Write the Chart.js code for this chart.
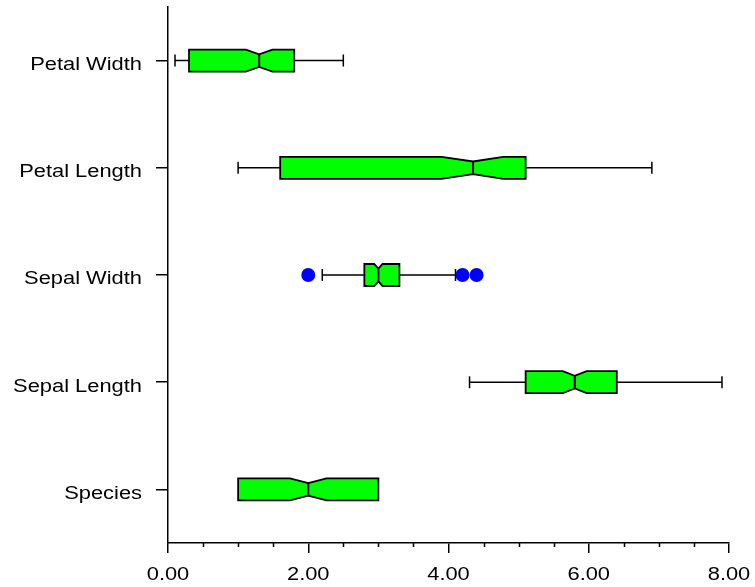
<!DOCTYPE html>
<html>
<head>
<meta charset="utf-8">
<script src="https://cdn.jsdelivr.net/npm/chart.js@4"></script>
<style>
  body { margin: 0; background: #fff; }
  canvas { display: block; }
</style>
</head>
<body>
<canvas id="boxChart" width="755" height="587"></canvas>
<script>
// Iris variables, top to bottom
const categories = ['Petal Width', 'Petal Length', 'Sepal Width', 'Sepal Length', 'Species'];
const mins    = [0.1, 1.0, 2.2, 4.3, 1.0];
const q1s     = [0.3, 1.6, 2.8, 5.1, 1.0];
const medians = [1.3, 4.35, 3.0, 5.8, 2.0];
const q3s     = [1.8, 5.1, 3.3, 6.4, 3.0];
const maxs    = [2.5, 6.9, 4.1, 7.9, 3.0];
const notchLo = [1.11, 3.90, 2.94, 5.63, 1.74];
const notchHi = [1.49, 4.78, 3.06, 5.97, 2.26];

const outlierValues = [2.0, 4.2, 4.4];
const outlierCats   = ['Sepal Width', 'Sepal Width', 'Sepal Width'];

const xTicks = [0, 2, 4, 6, 8];
const xTickLabels = ['0.00', '2.00', '4.00', '6.00', '8.00'];
const xMinorTicks = [0.5, 1, 1.5, 2.5, 3, 3.5, 4.5, 5, 5.5, 6.5, 7, 7.5];

const FONT = '17.5px "Liberation Sans", Arial, sans-serif';
const STRETCH = 1.25; // labels in the reference are drawn wide

function stretchedText(ctx, text, x, y, align) {
    ctx.save();
    ctx.translate(x, y);
    ctx.scale(STRETCH, 1);
    ctx.textAlign = align;
    ctx.textBaseline = 'alphabetic';
    ctx.fillText(text, 0, 0);
    ctx.restore();
}

const notchedBoxPlugin = {
    id: 'notchedBox',
    beforeDatasetsDraw(chart) {
        const ctx = chart.ctx;
        const x = chart.scales.x;
        const y = chart.scales.y;
        const h = 11;   // half box height
        const d = 4.7;  // notch depth
        const cap = 6;  // whisker cap half height

        ctx.save();
        ctx.strokeStyle = '#000';
        categories.forEach((c, i) => {
            const cy = y.getPixelForValue(i);
            const px = v => x.getPixelForValue(v);

            // whiskers
            ctx.lineWidth = 1.5;
            ctx.beginPath();
            if (mins[i] < q1s[i]) {
                ctx.moveTo(px(mins[i]), cy);
                ctx.lineTo(px(q1s[i]), cy);
                ctx.moveTo(px(mins[i]), cy - cap);
                ctx.lineTo(px(mins[i]), cy + cap);
            }
            if (maxs[i] > q3s[i]) {
                ctx.moveTo(px(q3s[i]), cy);
                ctx.lineTo(px(maxs[i]), cy);
                ctx.moveTo(px(maxs[i]), cy - cap);
                ctx.lineTo(px(maxs[i]), cy + cap);
            }
            ctx.stroke();

            // notched box
            ctx.lineWidth = 1.8;
            ctx.beginPath();
            ctx.moveTo(px(q1s[i]), cy - h);
            ctx.lineTo(px(notchLo[i]), cy - h);
            ctx.lineTo(px(medians[i]), cy - h + d);
            ctx.lineTo(px(notchHi[i]), cy - h);
            ctx.lineTo(px(q3s[i]), cy - h);
            ctx.lineTo(px(q3s[i]), cy + h);
            ctx.lineTo(px(notchHi[i]), cy + h);
            ctx.lineTo(px(medians[i]), cy + h - d);
            ctx.lineTo(px(notchLo[i]), cy + h);
            ctx.lineTo(px(q1s[i]), cy + h);
            ctx.closePath();
            ctx.fillStyle = '#00ff00';
            ctx.fill();
            ctx.stroke();

            // median
            ctx.beginPath();
            ctx.lineWidth = 2;
            ctx.moveTo(px(medians[i]), cy - h + d);
            ctx.lineTo(px(medians[i]), cy + h - d);
            ctx.stroke();
        });
        ctx.restore();
    },
    afterDraw(chart) {
        const ctx = chart.ctx;
        const x = chart.scales.x;
        const y = chart.scales.y;
        const area = chart.chartArea;

        ctx.save();
        // minor ticks on the x axis
        ctx.strokeStyle = '#000';
        ctx.lineWidth = 1.5;
        ctx.beginPath();
        xMinorTicks.forEach(v => {
            const p = Math.round(x.getPixelForValue(v)) + 0.5;
            ctx.moveTo(p, area.bottom);
            ctx.lineTo(p, area.bottom + 4);
        });
        ctx.stroke();

        ctx.fillStyle = '#000';
        ctx.font = FONT;
        categories.forEach((c, i) => {
            stretchedText(ctx, c, 142, y.getPixelForValue(i) + 9.3, 'right');
        });
        xTicks.forEach((v, i) => {
            stretchedText(ctx, xTickLabels[i], x.getPixelForValue(v), 580, 'center');
        });
        ctx.restore();
    }
};

const ctx = document.getElementById('boxChart').getContext('2d');

const boxChart = new Chart(ctx, {
    type: 'bar',
    data: {
        labels: categories,
        datasets: [{
            label: 'range',
            data: categories.map((c, i) => [mins[i], maxs[i]]),
            backgroundColor: 'rgba(0,0,0,0)',
            borderWidth: 0
        }, {
            type: 'scatter',
            label: 'outliers',
            data: outlierValues.map((v, i) => ({ x: v, y: outlierCats[i] })),
            backgroundColor: '#0000ff',
            borderWidth: 0,
            pointRadius: 7,
            pointHoverRadius: 7
        }]
    },
    options: {
        indexAxis: 'y',
        responsive: false,
        animation: false,
        events: [],
        layout: {
            padding: { top: 5, right: 26, left: 0, bottom: 0 }
        },
        plugins: {
            legend: { display: false },
            tooltip: { enabled: false }
        },
        scales: {
            x: {
                type: 'linear',
                min: 0,
                max: 8,
                afterBuildTicks: s => { s.ticks = xTicks.map(v => ({ value: v })); },
                afterFit: s => { s.height = 44; },
                ticks: { display: false },
                grid: {
                    drawOnChartArea: false,
                    tickLength: 10,
                    color: '#000',
                    lineWidth: 1.5
                },
                border: { color: '#000', width: 1.5 }
            },
            y: {
                type: 'category',
                afterFit: s => { s.width = 168; },
                ticks: { display: false },
                grid: {
                    drawOnChartArea: false,
                    offset: false,
                    tickLength: 12,
                    color: '#000',
                    lineWidth: 1.5
                },
                border: { color: '#000', width: 1.5 }
            }
        }
    },
    plugins: [notchedBoxPlugin]
});
</script>
</body>
</html>
